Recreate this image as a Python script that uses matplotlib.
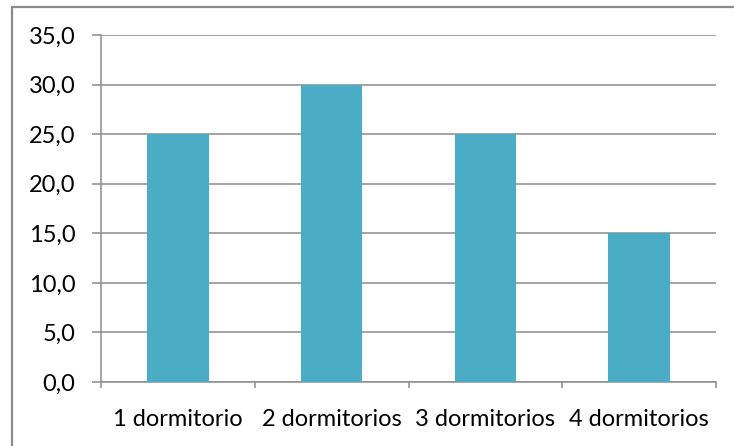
import matplotlib.pyplot as plt
import matplotlib.patches as mpatches
from matplotlib.ticker import FuncFormatter, MultipleLocator

categorias = ['1 dormitorio', '2 dormitorios', '3 dormitorios', '4 dormitorios']
porcentajes = [25.0, 30.0, 25.0, 15.0]

plt.rcParams['font.family'] = ['Lato', 'DejaVu Sans']

fig = plt.figure(figsize=(7.34, 4.46), dpi=100)
W, H = 734, 446
ax = fig.add_axes([101 / W, (H - 382) / H, (716 - 101) / W, (382 - 35) / H])

gris = '#8c8c8c'

# marco exterior del gráfico (solo se ven borde superior e izquierdo)
fig.patches.append(mpatches.Rectangle((11.5 / W, -0.1), 1.2, (H - 6.5) / H + 0.1,
                                      transform=fig.transFigure, fill=False,
                                      edgecolor=gris, linewidth=1.6))

x = range(len(categorias))
ax.bar(x, porcentajes, width=0.4, color='#4bacc6', zorder=3)

ax.set_xlim(-0.5, len(categorias) - 0.5)
ax.set_ylim(0, 35)
ax.yaxis.set_major_locator(MultipleLocator(5))
ax.yaxis.set_major_formatter(FuncFormatter(lambda v, p: f'{v:.1f}'.replace('.', ',')))
ax.grid(axis='y', color=gris, linewidth=1.1, zorder=0)

ax.set_xticks([i - 0.5 for i in range(len(categorias) + 1)], minor=False)
ax.set_xticklabels([])
ax.set_xticks(list(x), minor=True)
ax.set_xticklabels(categorias, minor=True)
ax.tick_params(axis='x', which='minor', length=0, pad=19.5, labelsize=17)
ax.tick_params(axis='x', which='major', length=4.3, width=1.1, color=gris)
ax.tick_params(axis='y', length=6.5, width=1.1, color=gris, labelsize=17, pad=12)

for s in ['top', 'right']:
    ax.spines[s].set_visible(False)
for s in ['left', 'bottom']:
    ax.spines[s].set_color(gris)
    ax.spines[s].set_linewidth(1.1)

fig.savefig('out.png', dpi=100)
